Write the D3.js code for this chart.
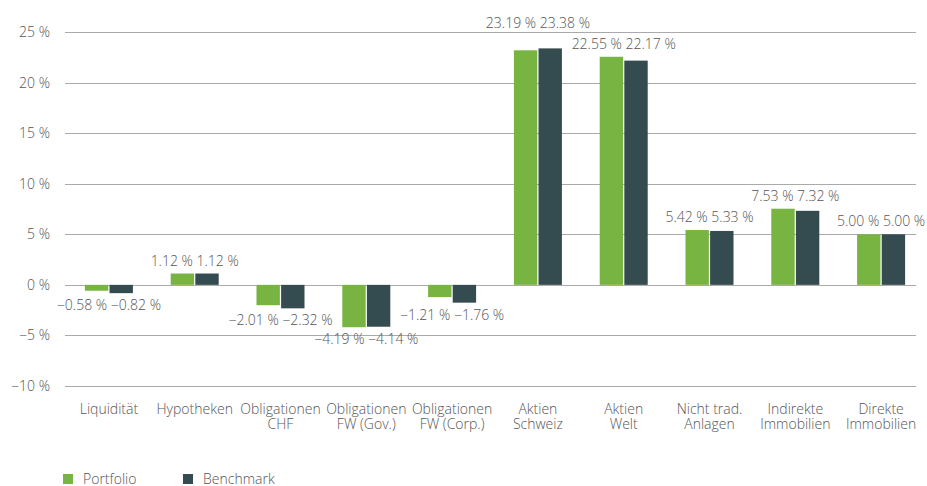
<!DOCTYPE html>
<html>
<head>
<meta charset="utf-8">
<script src="https://cdn.jsdelivr.net/npm/d3@7"></script>
<style>
  body { margin: 0; background: #fff; }
  svg { display: block; font-family: "Open Sans", "Noto Sans", sans-serif; font-weight: 300; }
  .tick-label, .val, .cat, .leg { fill: #555; font-size: 14px; }
</style>
</head>
<body>
<div id="chart"></div>
<script>
const categories = [
  ["Liquidität"], ["Hypotheken"], ["Obligationen", "CHF"], ["Obligationen", "FW (Gov.)"],
  ["Obligationen", "FW (Corp.)"], ["Aktien", "Schweiz"], ["Aktien", "Welt"],
  ["Nicht trad.", "Anlagen"], ["Indirekte", "Immobilien"], ["Direkte", "Immobilien"]
];
const series = ["Portfolio", "Benchmark"];
const portfolio = [-0.58, 1.12, -2.01, -4.19, -1.21, 23.19, 22.55, 5.42, 7.53, 5.00];
const benchmark = [-0.82, 1.12, -2.32, -4.14, -1.76, 23.38, 22.17, 5.33, 7.32, 5.00];
const yTicks = [25, 20, 15, 10, 5, 0, -5, -10];
const colors = ["#78b441", "#344b4f"];

const width = 927, height = 486;
const fmt = v => (v < 0 ? "\u2212" : "") + Math.abs(v).toFixed(2) + " %";

const svg = d3.select("#chart").append("svg")
  .attr("width", width).attr("height", height);

const y = d3.scaleLinear().domain([-10, 25]).range([386, 32]);
const x0 = d3.scaleBand().domain(d3.range(categories.length)).range([66, 924]);
const x1 = d3.scaleBand().domain(series).range([0, 48]).paddingInner(0.05);

// gridlines
svg.append("g").selectAll("line").data(yTicks).enter().append("line")
  .attr("x1", 65).attr("x2", 916)
  .attr("y1", d => Math.round(y(d)) + 0.5).attr("y2", d => Math.round(y(d)) + 0.5)
  .attr("stroke", "#aaa").attr("stroke-width", 1);

svg.append("g").selectAll("text").data(yTicks).enter().append("text")
  .attr("class", "tick-label")
  .attr("x", 50).attr("y", d => y(d) + 5)
  .attr("text-anchor", "end")
  .text(d => (d < 0 ? "\u2212" + Math.abs(d) : d) + " %");

// bars
const groups = svg.append("g").selectAll("g").data(categories).enter().append("g")
  .attr("transform", (d, i) => `translate(${x0(i) + (x0.bandwidth() - 48) / 2},0)`);

groups.selectAll("rect")
  .data((d, i) => [portfolio[i], benchmark[i]].map((v, k) => ({ s: series[k], v: v, k: k })))
  .enter().append("rect")
  .attr("x", d => x1(d.s))
  .attr("width", x1.bandwidth())
  .attr("y", d => y(Math.max(0, d.v)))
  .attr("height", d => Math.abs(y(d.v) - y(0)))
  .attr("fill", d => colors[d.k]);

// value labels (one combined string per group)
const labels = svg.append("g").selectAll("text").data(categories).enter().append("text")
  .attr("class", "val")
  .attr("text-anchor", "middle")
  .attr("x", (d, i) => x0(i) + x0.bandwidth() / 2)
  .attr("y", (d, i) => {
    const hi = Math.max(portfolio[i], benchmark[i]);
    const lo = Math.min(portfolio[i], benchmark[i]);
    return hi > 0 ? y(hi) - 8 : y(lo) + 17;
  })
  .text((d, i) => fmt(portfolio[i]) + " " + fmt(benchmark[i]));

// push a label up if it collides with its right neighbour
const nodes = labels.nodes();
for (let i = nodes.length - 2; i >= 0; i--) {
  const a = nodes[i].getBBox(), b = nodes[i + 1].getBBox();
  const overlapX = a.x + a.width > b.x && b.x + b.width > a.x;
  const overlapY = a.y + a.height > b.y && b.y + b.height > a.y;
  if (overlapX && overlapY && portfolio[i] > 0) {
    d3.select(nodes[i]).attr("y", +nodes[i + 1].getAttribute("y") - 21);
  }
}

// category labels
const cats = svg.append("g").selectAll("text").data(categories).enter().append("text")
  .attr("class", "cat")
  .attr("text-anchor", "middle")
  .attr("x", (d, i) => x0(i) + x0.bandwidth() / 2)
  .attr("y", 414);
cats.selectAll("tspan").data(d => d).enter().append("tspan")
  .attr("x", function () { return this.parentNode.getAttribute("x"); })
  .attr("dy", (d, j) => j === 0 ? 0 : 15)
  .text(d => d);

// legend
const leg = svg.append("g").selectAll("g").data(series).enter().append("g")
  .attr("transform", (d, i) => `translate(${63 + i * 120},474)`);
leg.append("rect").attr("width", 10).attr("height", 10).attr("fill", (d, i) => colors[i]);
leg.append("text").attr("class", "leg").attr("x", 20).attr("y", 10).text(d => d);
</script>
</body>
</html>
